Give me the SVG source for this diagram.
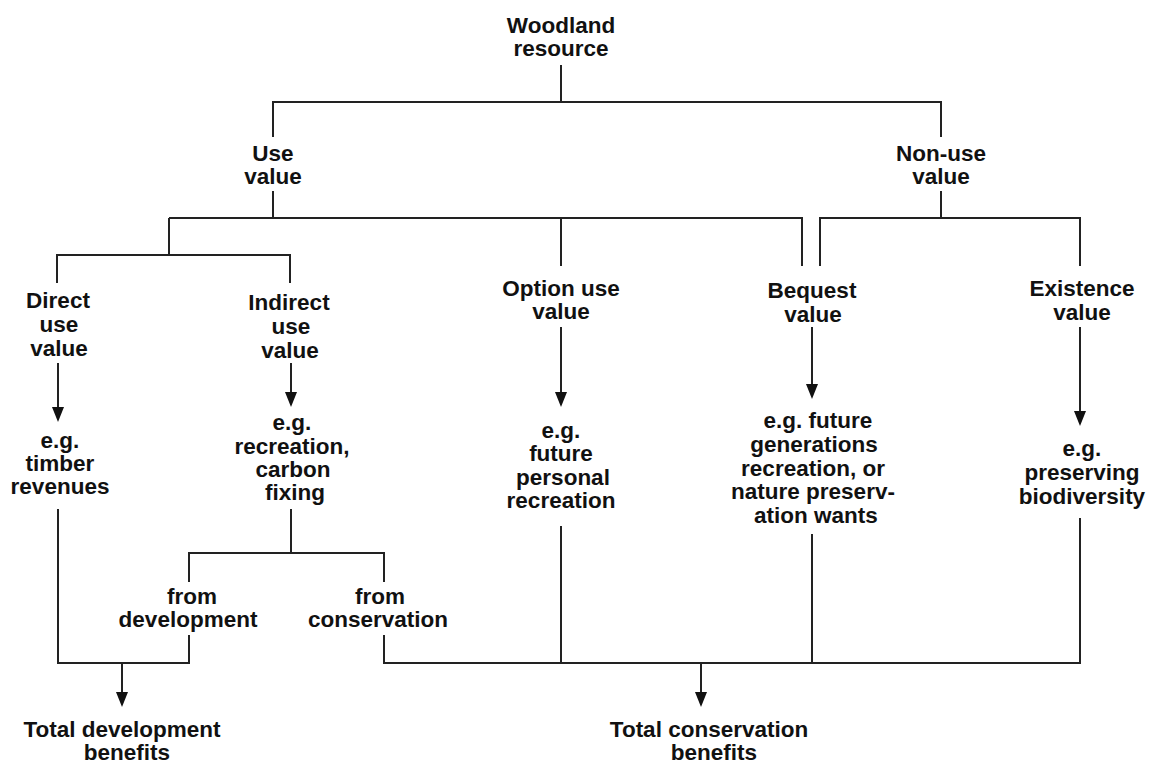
<svg xmlns="http://www.w3.org/2000/svg" width="1149" height="764" viewBox="0 0 1149 764">
<defs>
<style>
text{font-family:"Liberation Sans",Arial,Helvetica,sans-serif;font-weight:bold;font-size:22.5px;fill:#111;text-anchor:middle}
.c path{fill:none;stroke:#222;stroke-width:2}
.c path.a{marker-end:url(#ah)}
</style>
<marker id="ah" viewBox="0 0 15 12" markerUnits="userSpaceOnUse" markerWidth="15" markerHeight="12" refX="7" refY="6" orient="auto">
<path d="M0,0 L15,6 L0,12 z" fill="#111"/>
</marker>
</defs>
<rect width="1149" height="764" fill="#fff"/>
<g class="c" id="connectors">
<path d="M561,65 V102"/>
<path d="M273,137 V102 H941 V137"/>
<path d="M273,191 V218"/>
<path d="M941,191 V218"/>
<path d="M169,218 H802 V266"/>
<path d="M561,218 V266"/>
<path d="M169,218 V255"/>
<path d="M57,283 V255 H290 V283"/>
<path d="M820,266 V218 H1080 V266"/>
<path class="a" d="M58,363 V414"/>
<path class="a" d="M291,363 V399"/>
<path class="a" d="M561,327 V399"/>
<path class="a" d="M812,327 V391"/>
<path class="a" d="M1080,327 V418"/>
<path d="M58,509 V663 H189 V635"/>
<path class="a" d="M122,663 V699"/>
<path d="M291,509 V553"/>
<path d="M189,582 V553 H384 V582"/>
<path d="M384,635 V663 H1080 V518"/>
<path d="M561,526 V663"/>
<path d="M812,534 V663"/>
<path class="a" d="M701,663 V699"/>
</g>
<g id="woodland"><text x="561" y="33">Woodland</text><text x="561" y="56">resource</text></g>
<g id="use"><text x="273" y="161">Use</text><text x="273" y="184">value</text></g>
<g id="nonuse"><text x="941" y="161">Non-use</text><text x="941" y="184">value</text></g>
<g id="direct"><text x="58" y="308">Direct</text><text x="59" y="332">use</text><text x="59" y="356">value</text></g>
<g id="indirect"><text x="289" y="310">Indirect</text><text x="291" y="334">use</text><text x="290" y="358">value</text></g>
<g id="option"><text x="561" y="296">Option use</text><text x="561" y="319">value</text></g>
<g id="bequest"><text x="812" y="298">Bequest</text><text x="813" y="322">value</text></g>
<g id="existence"><text x="1082" y="296">Existence</text><text x="1082" y="320">value</text></g>
<g id="timber"><text x="60" y="448">e.g.</text><text x="60" y="471">timber</text><text x="60" y="494">revenues</text></g>
<g id="recreation"><text x="292" y="430">e.g.</text><text x="292" y="454">recreation,</text><text x="293" y="477">carbon</text><text x="295" y="500">fixing</text></g>
<g id="personal"><text x="561" y="438">e.g.</text><text x="561" y="461">future</text><text x="563" y="485">personal</text><text x="561" y="508">recreation</text></g>
<g id="generations"><text x="818" y="428">e.g. future</text><text x="814" y="452">generations</text><text x="813" y="476">recreation, or</text><text x="813" y="499">nature preserv-</text><text x="816" y="523">ation wants</text></g>
<g id="biodiversity"><text x="1082" y="456">e.g.</text><text x="1082" y="480">preserving</text><text x="1082" y="504">biodiversity</text></g>
<g id="fromdev"><text x="192" y="604">from</text><text x="188" y="627">development</text></g>
<g id="fromcons"><text x="380" y="604">from</text><text x="378" y="627">conservation</text></g>
<g id="totaldev"><text x="122" y="737">Total development</text><text x="127" y="760">benefits</text></g>
<g id="totalcons"><text x="709" y="737">Total conservation</text><text x="714" y="760">benefits</text></g>
</svg>
